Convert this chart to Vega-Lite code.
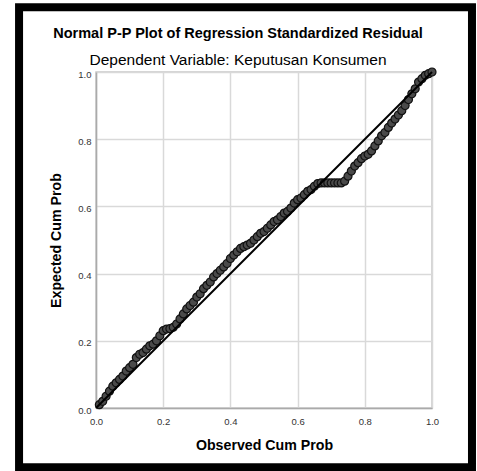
{
  "$schema": "https://vega.github.io/schema/vega-lite/v6.json",
  "width": 336,
  "height": 336,
  "autosize": "none",
  "padding": {"left": 96, "top": 72, "right": 45, "bottom": 63},
  "background": "white",
  "title": {
    "text": "Normal P-P Plot of Regression Standardized Residual",
    "subtitle": "Dependent Variable: Keputusan Konsumen",
    "anchor": "middle",
    "frame": "group",
    "dx": -26,
    "font": "Liberation Sans",
    "fontSize": 14.5,
    "fontWeight": "bold",
    "color": "black",
    "subtitleFont": "Liberation Sans",
    "subtitleFontSize": 15.5,
    "subtitleColor": "black",
    "subtitlePadding": 11.5,
    "offset": -66
  },
  "config": {
    "view": {"stroke": "#c8c8c8", "strokeWidth": 1.5},
    "axis": {
      "labelFont": "Liberation Sans",
      "labelFontSize": 9.5,
      "labelColor": "#333333",
      "titleFont": "Liberation Sans",
      "titleFontSize": 14.2,
      "titleFontWeight": "bold",
      "titleColor": "black",
      "ticks": false,
      "domainColor": "#aaaaaa",
      "domainWidth": 1.5,
      "gridColor": "#d9d9d9",
      "gridWidth": 1.5,
      "labelFlush": false,
      "labelOverlap": false
    }
  },
  "datasets": {
    "pp": [
      {"o": 0.01, "e": 0.01}, {"o": 0.02, "e": 0.02}, {"o": 0.03, "e": 0.035}, {"o": 0.04, "e": 0.05},
      {"o": 0.05, "e": 0.065}, {"o": 0.06, "e": 0.075}, {"o": 0.07, "e": 0.085}, {"o": 0.08, "e": 0.095},
      {"o": 0.09, "e": 0.11}, {"o": 0.10, "e": 0.12}, {"o": 0.11, "e": 0.13}, {"o": 0.12, "e": 0.15},
      {"o": 0.13, "e": 0.16}, {"o": 0.14, "e": 0.165}, {"o": 0.15, "e": 0.175}, {"o": 0.16, "e": 0.185},
      {"o": 0.17, "e": 0.19}, {"o": 0.18, "e": 0.2}, {"o": 0.19, "e": 0.215}, {"o": 0.20, "e": 0.23},
      {"o": 0.21, "e": 0.235}, {"o": 0.22, "e": 0.236}, {"o": 0.23, "e": 0.24}, {"o": 0.24, "e": 0.25},
      {"o": 0.25, "e": 0.265}, {"o": 0.26, "e": 0.28}, {"o": 0.27, "e": 0.295}, {"o": 0.28, "e": 0.305},
      {"o": 0.29, "e": 0.315}, {"o": 0.30, "e": 0.33}, {"o": 0.31, "e": 0.34}, {"o": 0.32, "e": 0.355},
      {"o": 0.33, "e": 0.365}, {"o": 0.34, "e": 0.375}, {"o": 0.35, "e": 0.39}, {"o": 0.36, "e": 0.4},
      {"o": 0.37, "e": 0.41}, {"o": 0.38, "e": 0.42}, {"o": 0.39, "e": 0.43}, {"o": 0.40, "e": 0.445},
      {"o": 0.41, "e": 0.455}, {"o": 0.42, "e": 0.465}, {"o": 0.43, "e": 0.475}, {"o": 0.44, "e": 0.48},
      {"o": 0.45, "e": 0.485}, {"o": 0.46, "e": 0.49}, {"o": 0.47, "e": 0.5}, {"o": 0.48, "e": 0.51},
      {"o": 0.49, "e": 0.52}, {"o": 0.50, "e": 0.525}, {"o": 0.51, "e": 0.535}, {"o": 0.52, "e": 0.545},
      {"o": 0.53, "e": 0.555}, {"o": 0.54, "e": 0.56}, {"o": 0.55, "e": 0.57}, {"o": 0.56, "e": 0.58},
      {"o": 0.57, "e": 0.585}, {"o": 0.58, "e": 0.595}, {"o": 0.59, "e": 0.61}, {"o": 0.60, "e": 0.62},
      {"o": 0.61, "e": 0.625}, {"o": 0.62, "e": 0.635}, {"o": 0.63, "e": 0.645}, {"o": 0.64, "e": 0.65},
      {"o": 0.65, "e": 0.66}, {"o": 0.66, "e": 0.668}, {"o": 0.67, "e": 0.67}, {"o": 0.68, "e": 0.67},
      {"o": 0.69, "e": 0.67}, {"o": 0.70, "e": 0.67}, {"o": 0.71, "e": 0.67}, {"o": 0.72, "e": 0.67},
      {"o": 0.73, "e": 0.67}, {"o": 0.74, "e": 0.675}, {"o": 0.75, "e": 0.69}, {"o": 0.76, "e": 0.705},
      {"o": 0.77, "e": 0.72}, {"o": 0.78, "e": 0.73}, {"o": 0.79, "e": 0.742}, {"o": 0.80, "e": 0.75},
      {"o": 0.81, "e": 0.755}, {"o": 0.82, "e": 0.765}, {"o": 0.83, "e": 0.78}, {"o": 0.84, "e": 0.795},
      {"o": 0.85, "e": 0.81}, {"o": 0.86, "e": 0.82}, {"o": 0.87, "e": 0.835}, {"o": 0.88, "e": 0.848},
      {"o": 0.89, "e": 0.86}, {"o": 0.90, "e": 0.872}, {"o": 0.91, "e": 0.885}, {"o": 0.92, "e": 0.9},
      {"o": 0.93, "e": 0.918}, {"o": 0.94, "e": 0.935}, {"o": 0.95, "e": 0.95}, {"o": 0.96, "e": 0.97},
      {"o": 0.97, "e": 0.98}, {"o": 0.98, "e": 0.99}, {"o": 0.99, "e": 0.995}, {"o": 1.0, "e": 1.0}
    ]
  },
  "layer": [
    {
      "data": {"name": "pp"},
      "mark": {"type": "point", "shape": "circle", "filled": true, "size": 64, "fill": "#4a4a4a", "stroke": "#111111", "strokeWidth": 1.2, "opacity": 1},
      "encoding": {
        "x": {
          "field": "o", "type": "quantitative",
          "scale": {"domain": [0, 1], "nice": false, "zero": false},
          "axis": {"title": "Observed Cum Prob", "values": [0, 0.2, 0.4, 0.6, 0.8, 1.0], "format": ".1f", "labelPadding": 8, "titlePadding": 13}
        },
        "y": {
          "field": "e", "type": "quantitative",
          "scale": {"domain": [0, 1], "nice": false, "zero": false},
          "axis": {"title": "Expected Cum Prob", "values": [0, 0.2, 0.4, 0.6, 0.8, 1.0], "format": ".1f", "labelPadding": 5, "labelOffset": 2, "titlePadding": 14}
        }
      }
    },
    {
      "data": {"values": [{}]},
      "mark": {"type": "rule", "color": "black", "strokeWidth": 2},
      "encoding": {
        "x": {"datum": 0, "type": "quantitative"},
        "y": {"datum": 0, "type": "quantitative"},
        "x2": {"datum": 1},
        "y2": {"datum": 1}
      }
    },
    {
      "data": {"values": [{}]},
      "mark": {"type": "rect", "filled": false, "stroke": "black", "strokeWidth": 8, "clip": false},
      "encoding": {
        "x": {"datum": -0.229, "type": "quantitative"},
        "x2": {"datum": 1.119},
        "y": {"datum": 1.193, "type": "quantitative"},
        "y2": {"datum": -0.176}
      }
    }
  ]
}
